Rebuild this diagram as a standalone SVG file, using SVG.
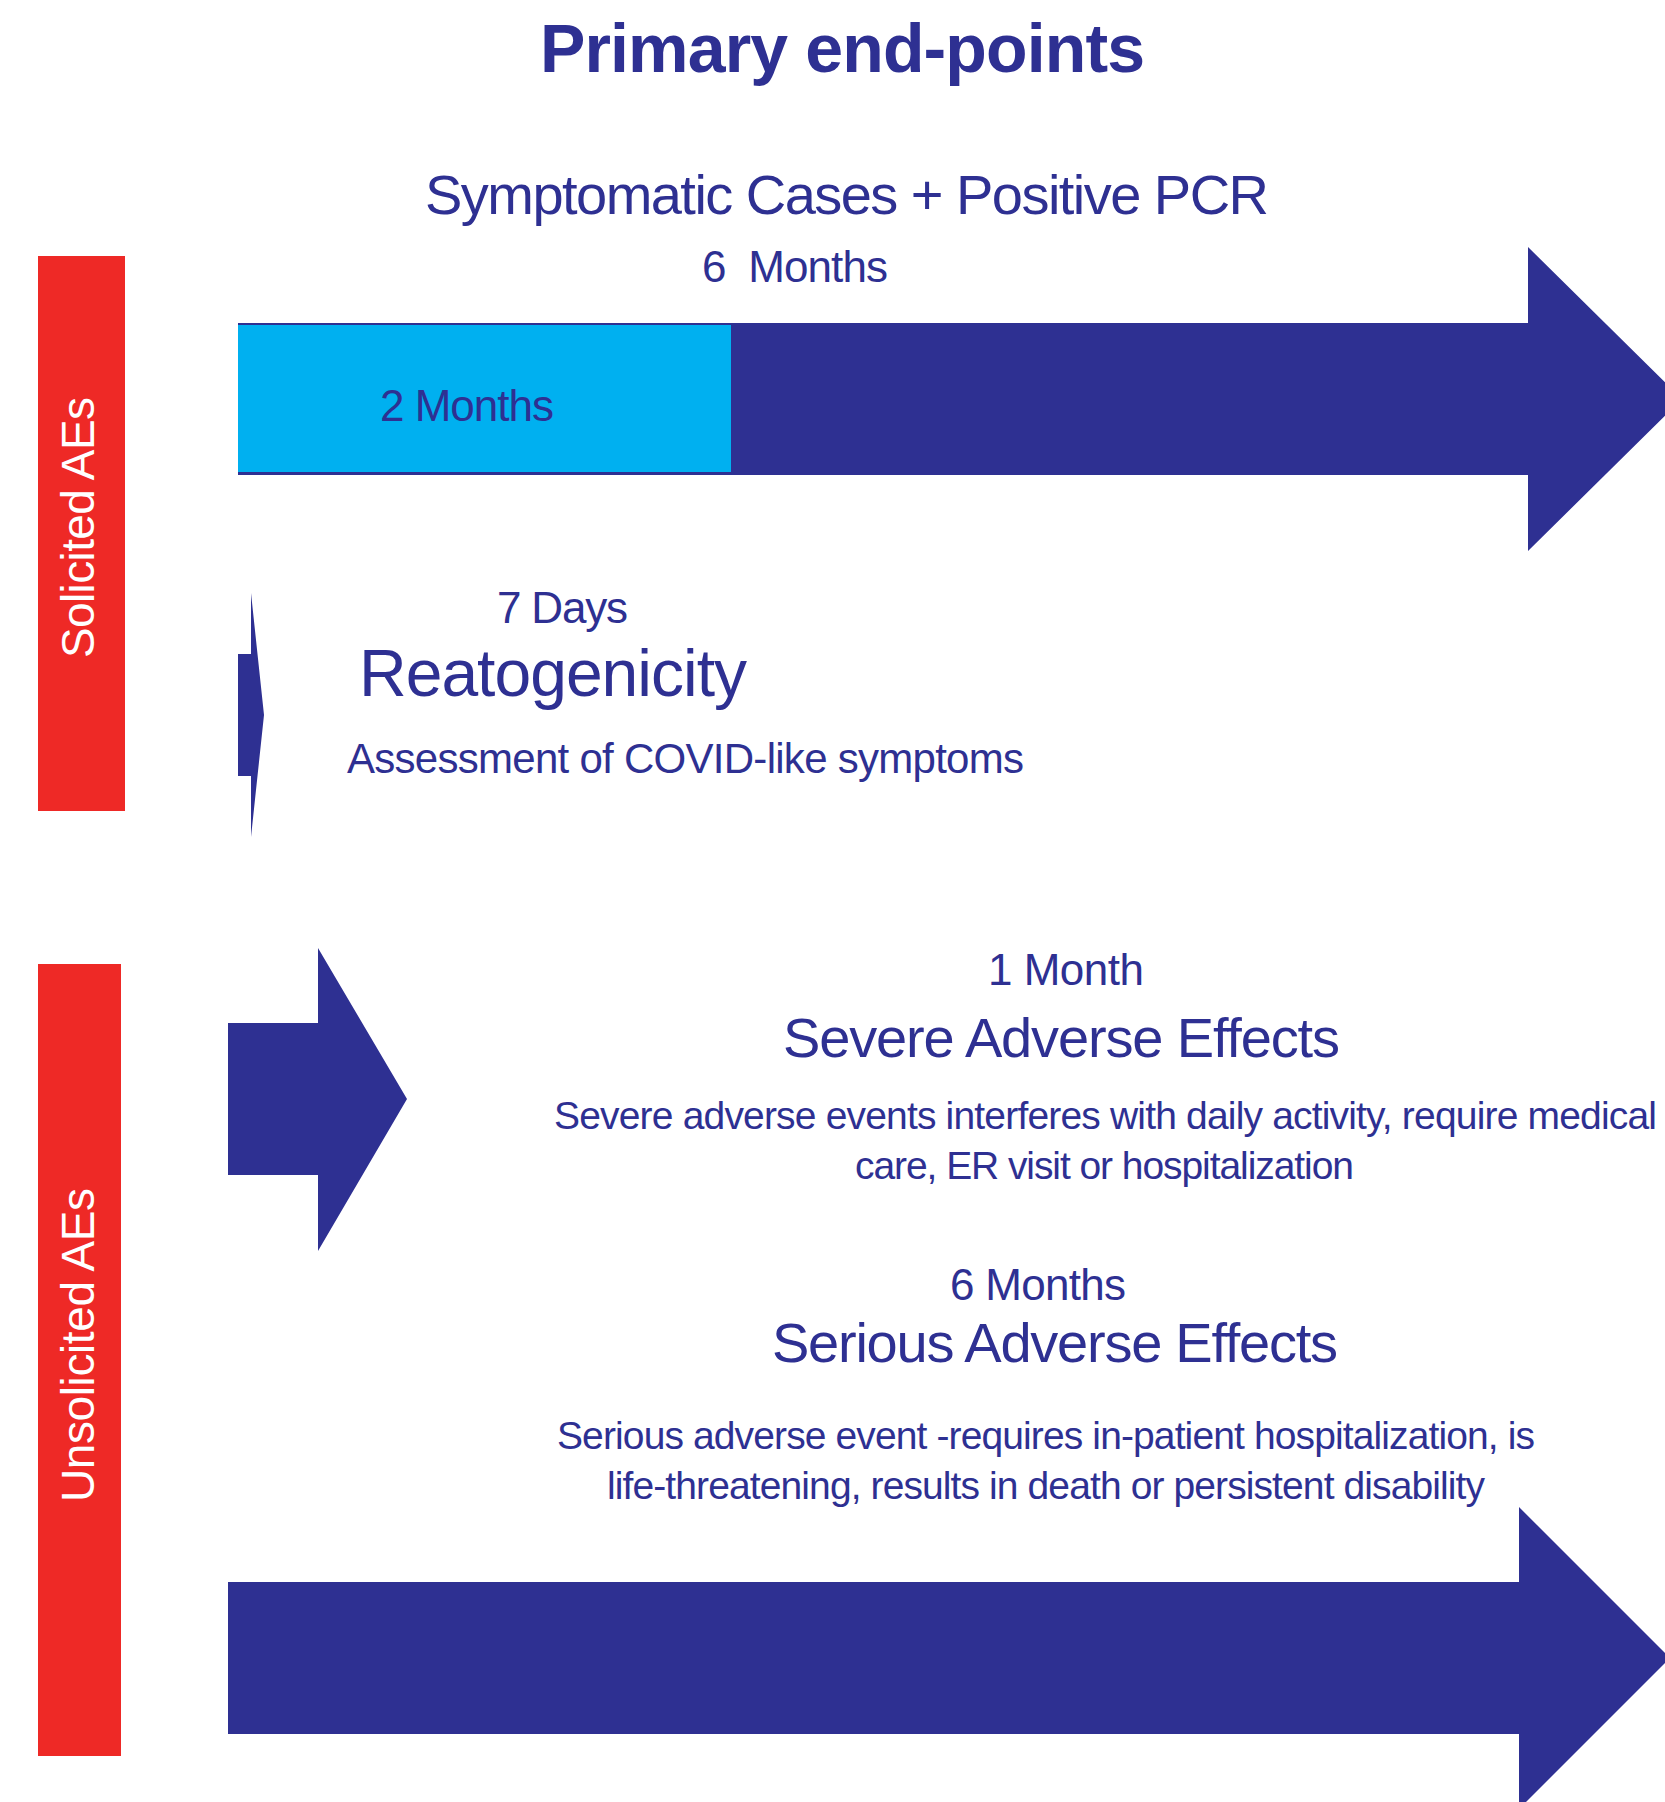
<svg xmlns="http://www.w3.org/2000/svg" width="1665" height="1802" viewBox="0 0 1665 1802">
<style>
  text { font-family: "Liberation Sans", Arial, sans-serif; fill: #2E3092; }
  .title { font-weight: bold; font-size: 68px; }
  .side { fill: #FFFFFF; font-size: 46px; text-anchor: middle; }
  .navy { fill: #2E3092; }
  .red { fill: #EE2926; }
  .sky { fill: #00B0F0; }
  .t44 { font-size: 44px; }
  .t56 { font-size: 56px; }
  .t68 { font-size: 66px; }
  .t40 { font-size: 39px; }
  .t42 { font-size: 42px; }
</style>
<rect x="0" y="0" width="1665" height="1802" fill="#FFFFFF"/>

<g id="title">
  <text class="title" x="540" y="72" textLength="605">Primary end-points</text>
</g>

<g id="solicited-label">
  <rect class="red" x="38" y="256" width="87" height="555"/>
  <text class="side" transform="translate(94,527.5) rotate(-90)" x="0" y="0" textLength="261">Solicited AEs</text>
</g>

<g id="unsolicited-label">
  <rect class="red" x="38" y="964" width="83" height="792"/>
  <text class="side" transform="translate(94,1345) rotate(-90)" x="0" y="0" textLength="314">Unsolicited AEs</text>
</g>

<g id="symptomatic">
  <text class="t56" x="425" y="214" textLength="844">Symptomatic Cases + Positive PCR</text>
  <text class="t44" x="702" y="282" textLength="186">6&#160; Months</text>
</g>

<g id="connectors">
  <g id="arrow-6-months">
    <polygon class="navy" points="238,323 1528,323 1528,247 1682,399 1528,551 1528,475 238,475"/>
    <rect class="sky" x="238" y="325" width="493" height="147"/>
    <text class="t44" x="380" y="421" textLength="174">2 Months</text>
  </g>
  <g id="arrow-7-days">
    <polygon class="navy" points="238,654 251,654 251,593 264,715 251,837 251,776 238,776"/>
  </g>
  <g id="arrow-1-month">
    <polygon class="navy" points="228,1023 318,1023 318,948 407,1099 318,1251 318,1175 228,1175"/>
  </g>
  <g id="arrow-6-months-serious">
    <polygon class="navy" points="228,1582 1519,1582 1519,1507 1670,1658 1519,1809 1519,1734 228,1734"/>
  </g>
</g>

<g id="reactogenicity">
  <text class="t44" x="497" y="623" textLength="131">7 Days</text>
  <text class="t68" x="359" y="696" textLength="388">Reatogenicity</text>
  <text class="t42" x="347" y="773" textLength="677">Assessment of COVID-like symptoms</text>
</g>

<g id="severe">
  <text class="t44" x="988" y="985" textLength="156">1 Month</text>
  <text class="t56" x="783" y="1057" textLength="557">Severe Adverse Effects</text>
  <text class="t40" x="554" y="1129" textLength="1103">Severe adverse events interferes with daily activity, require medical</text>
  <text class="t40" x="855" y="1179" textLength="499">care, ER visit or hospitalization</text>
</g>

<g id="serious">
  <text class="t44" x="950" y="1300" textLength="176">6 Months</text>
  <text class="t56" x="772" y="1362" textLength="566">Serious Adverse Effects</text>
  <text class="t40" x="557" y="1449" textLength="978">Serious adverse event -requires in-patient hospitalization, is</text>
  <text class="t40" x="607" y="1499" textLength="878">life-threatening, results in death or persistent disability</text>
</g>
</svg>
